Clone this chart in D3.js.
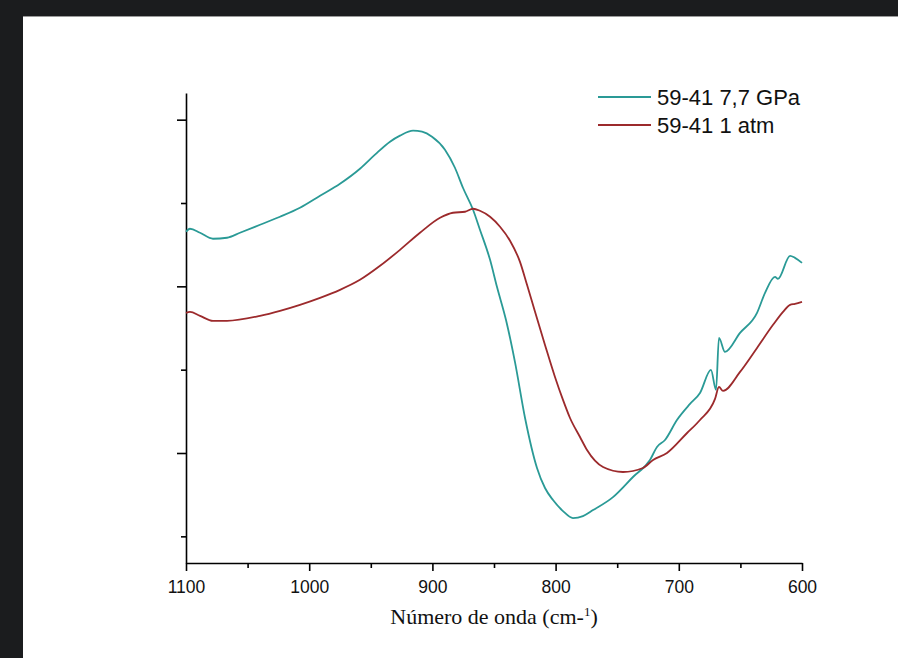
<!DOCTYPE html>
<html>
<head>
<meta charset="utf-8">
<script src="https://cdn.jsdelivr.net/npm/d3@7"></script>
<style>
  html, body { margin: 0; padding: 0; background: #fff; }
  svg { display: block; }
  .tick text { font-family: "Liberation Sans", Arial, sans-serif; }
</style>
</head>
<body>
<div id="chart"></div>
<script>
// wavenumber (cm-1), arbitrary absorbance
var seriesNames = ["59-41 7,7 GPa", "59-41 1 atm"];
var seriesColors = ["#2a9a96", "#9c2a2c"];

var wnHigh = [1100, 1096.8, 1088.6, 1078.1, 1066.7, 1056.2, 1039.9, 1023.7, 1007.5, 991.2,
  975.0, 958.8, 946.6, 934.4, 926.3, 915.7, 908.4, 900.3, 889.8, 881.7,
  875.2, 867.0, 861.4, 853.2, 847.6, 840.3, 833.0, 824.8, 815.1, 808.6,
  802.1, 794.0, 785.9, 777.8, 769.6, 753.4, 737.2, 723.4, 717.7, 711.2,
  701.5, 690.9, 682.8, 673.9, 669.8, 667.4, 662.5, 650.3, 636.5, 630.0,
  621.9, 619.5, 609.7, 605.7, 600];
var absHigh = [0.6655, 0.6691, 0.6643, 0.6571, 0.6583, 0.6643, 0.6739, 0.6835, 0.6943, 0.7087,
  0.7231, 0.7411, 0.7580, 0.7736, 0.7808, 0.7868, 0.7856, 0.7796, 0.7640, 0.7423,
  0.7183, 0.6919, 0.6679, 0.6318, 0.5994, 0.5598, 0.5093, 0.4420, 0.3820, 0.3580,
  0.3435, 0.3303, 0.3219, 0.3243, 0.3315, 0.3471, 0.3712, 0.3916, 0.4072, 0.4156,
  0.4396, 0.4589, 0.4721, 0.4997, 0.4757, 0.5381, 0.5213, 0.5441, 0.5682, 0.5922,
  0.6114, 0.6090, 0.6366, 0.6342, 0.6282];

var wnAtm = [1100, 1096.8, 1088.6, 1078.1, 1066.7, 1039.9, 1023.7, 1007.5, 991.2, 975.0,
  958.8, 942.5, 926.3, 910.1, 893.8, 883.3, 873.5, 867.0, 861.4, 853.2,
  845.1, 837.0, 828.9, 823.2, 816.7, 808.6, 800.5, 794.0, 788.3, 780.2,
  774.5, 761.5, 745.3, 729.1, 720.9, 709.6, 693.3, 682.8, 670.6, 667.4,
  664.1, 650.3, 636.5, 623.5, 615.4, 609.7, 605.7, 600];
var absAtm = [0.5682, 0.5694, 0.5646, 0.5586, 0.5586, 0.5646, 0.5706, 0.5778, 0.5862, 0.5958,
  0.6078, 0.6246, 0.6438, 0.6643, 0.6823, 0.6883, 0.6895, 0.6931, 0.6907, 0.6835,
  0.6715, 0.6547, 0.6294, 0.6018, 0.5694, 0.5297, 0.4913, 0.4637, 0.4420, 0.4192,
  0.4036, 0.3832, 0.3772, 0.3820, 0.3916, 0.4000, 0.4240, 0.4396, 0.4649, 0.4793,
  0.4745, 0.4973, 0.5261, 0.5538, 0.5694, 0.5778, 0.5790, 0.5814];

var xMajor = [1100, 1000, 900, 800, 700, 600];
var xMinor = [1050, 950, 850, 750, 650];
var yMajor = [0.4, 0.6, 0.8];
var yMinor = [0.3, 0.5, 0.7];

var W = 898, H = 658;
var mLeft = 186, mRight = 802, mTop = 93, mBottom = 563;

var svg = d3.select("#chart").append("svg")
  .attr("width", W)
  .attr("height", H);

// dark frame around the screenshot
svg.append("rect").attr("x", 0).attr("y", 0).attr("width", W).attr("height", H).attr("fill", "#fff");
svg.append("rect").attr("x", 0).attr("y", 0).attr("width", W).attr("height", 16).attr("fill", "#1b1c1e");
svg.append("rect").attr("x", 0).attr("y", 0).attr("width", 23).attr("height", H).attr("fill", "#1b1c1e");
svg.append("line").attr("x1", 23).attr("x2", W).attr("y1", 16.5).attr("y2", 16.5)
  .attr("stroke", "#9a9a9a").attr("stroke-width", 1);

var x = d3.scaleLinear().domain([1100, 600]).range([mLeft, mRight]);
var y = d3.scaleLinear().domain([0.268, 0.832]).range([mBottom, mTop]);

// axes
var gx = svg.append("g").attr("transform", "translate(0," + mBottom + ")");
gx.call(d3.axisBottom(x).tickValues(xMajor).tickSize(8).tickSizeOuter(0).tickPadding(10)
  .tickFormat(d3.format("d")));
gx.append("g").call(d3.axisBottom(x).tickValues(xMinor).tickSize(5).tickFormat(""))
  .select(".domain").remove();
gx.selectAll("text").attr("font-size", 17.5).attr("fill", "#111");
gx.selectAll("path, line").attr("stroke", "#000").attr("stroke-width", 1.6);

var gy = svg.append("g").attr("transform", "translate(" + mLeft + ",0)");
gy.call(d3.axisLeft(y).tickValues(yMajor).tickSize(9).tickSizeOuter(0).tickFormat(""));
gy.append("g").call(d3.axisLeft(y).tickValues(yMinor).tickSize(5).tickFormat(""))
  .select(".domain").remove();
gy.selectAll("path, line").attr("stroke", "#000").attr("stroke-width", 1.6);

// axis title
var title = svg.append("text")
  .attr("x", 494)
  .attr("y", 624)
  .attr("text-anchor", "middle")
  .attr("font-family", "'Liberation Serif', 'Times New Roman', serif")
  .attr("font-size", 22)
  .attr("fill", "#111");
title.append("tspan").text("Número de onda (cm-");
title.append("tspan").text("1").attr("font-size", 13).attr("dy", -8);
title.append("tspan").text(")").attr("dy", 8);

// curves
var line = d3.line()
  .x(function (d) { return x(d[0]); })
  .y(function (d) { return y(d[1]); })
  .curve(d3.curveMonotoneX);

var series = [
  d3.zip(wnHigh, absHigh),
  d3.zip(wnAtm, absAtm)
];

svg.selectAll(".curve")
  .data(series)
  .enter()
  .append("path")
  .attr("class", "curve")
  .attr("d", line)
  .attr("fill", "none")
  .attr("stroke", function (d, i) { return seriesColors[i]; })
  .attr("stroke-width", 1.8)
  .attr("stroke-linejoin", "round");

// legend
var legend = svg.selectAll(".legend")
  .data(seriesNames)
  .enter()
  .append("g")
  .attr("class", "legend")
  .attr("transform", function (d, i) { return "translate(598," + (97 + i * 28) + ")"; });

legend.append("line")
  .attr("x1", 0).attr("x2", 53)
  .attr("y1", 0).attr("y2", 0)
  .attr("stroke", function (d, i) { return seriesColors[i]; })
  .attr("stroke-width", 1.8);

legend.append("text")
  .attr("x", 59)
  .attr("y", 8)
  .attr("font-family", "'Liberation Sans', Arial, sans-serif")
  .attr("font-size", 22)
  .attr("fill", "#111")
  .text(function (d) { return d; });
</script>
</body>
</html>
